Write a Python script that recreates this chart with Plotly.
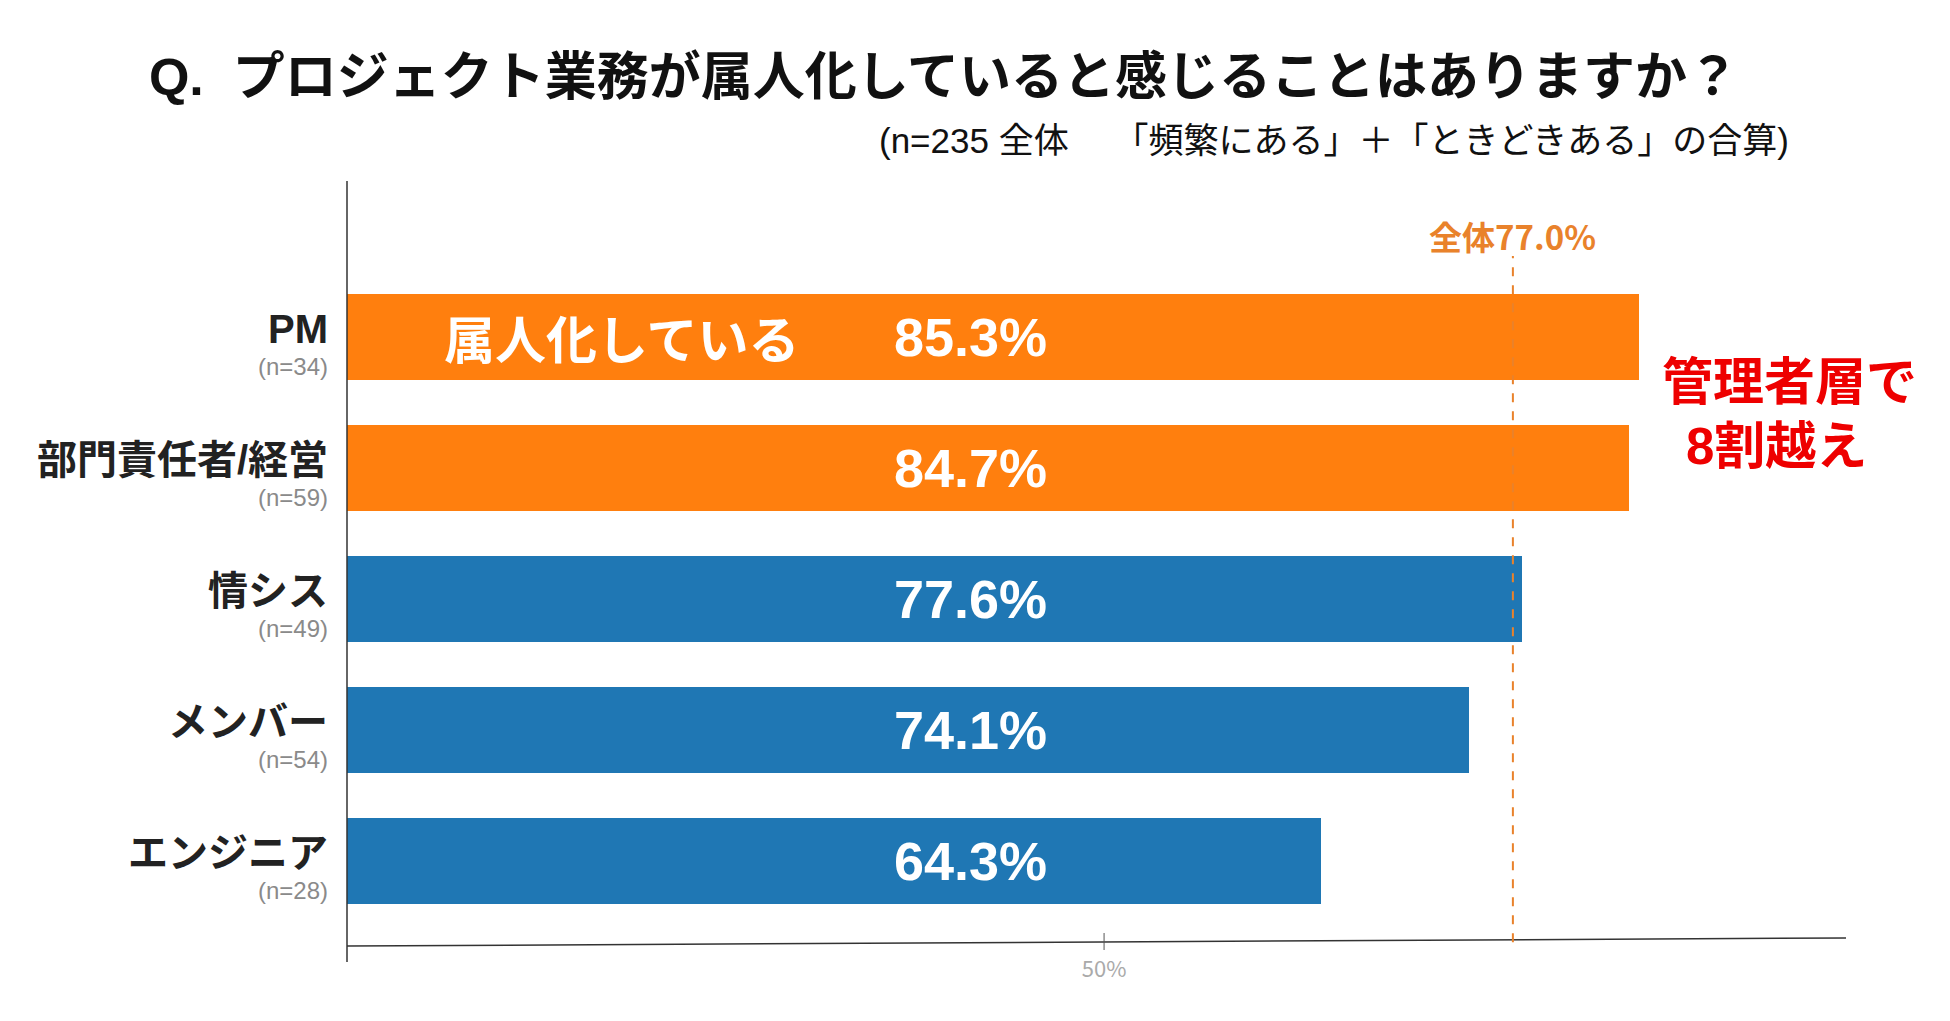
import plotly.graph_objects as go

# data
groups = ["PM", "部門責任者/経営", "情シス", "メンバー", "エンジニア"]
group_n = [34, 59, 49, 54, 28]
shares = [85.3, 84.7, 77.6, 74.1, 64.3]
bar_colors = ["#ff7f0e", "#ff7f0e", "#1f77b4", "#1f77b4", "#1f77b4"]
overall = 77.0
x_ticks = [50]
x_ticklabels = ["50%"]

title_text = "Q.  プロジェクト業務が属人化していると感じることはありますか？"
sub_text = "(n=235 全体　\u00a0「頻繁にある」＋「ときどきある」の合算)"

# page body has an 8px margin, so everything is placed 8px up/left
OFF = 8
W, H = 1950 - 2 * OFF, 1021 - 2 * OFF
L, T = 347 - OFF, 181 - OFF
R = W - (1846 - OFF)
B = H - (946 - OFF)
PW = W - L - R
PH = H - T - B
JP = "Noto Sans CJK JP"
LAT = "Liberation Sans, Noto Sans CJK JP"


def px_x(p):
    # page pixel -> paper x
    return (p - OFF - L) / PW


def px_y(p):
    # page pixel -> paper y
    return (H - B - (p - OFF)) / PH


# PM on top
ypos = list(range(len(groups) - 1, -1, -1))

fig = go.Figure()
fig.add_trace(go.Bar(
    x=shares, y=ypos, orientation="h",
    width=0.658,
    marker=dict(color=bar_colors, line=dict(width=0)),
    hoverinfo="x+y",
))

ann = []
for name, n, v, y in zip(groups, group_n, shares, ypos):
    ann.append(dict(x=0, xref="paper", y=y, yref="y", xanchor="right", yanchor="bottom",
                    xshift=-18, yshift=-15, borderpad=0, text="<b>%s</b>" % name,
                    showarrow=False, font=dict(family=LAT, size=40, color="#222222")))
    ann.append(dict(x=0, xref="paper", y=y, yref="y", xanchor="right", yanchor="top",
                    xshift=-18, yshift=-15, borderpad=0, text="(n=%d)" % n,
                    showarrow=False, font=dict(family=LAT, size=24, color="#8a8a8a")))
    ann.append(dict(x=36.0, xref="x", y=y, yref="y", xanchor="left", yanchor="middle",
                    text="<b>%.1f%%</b>" % v, showarrow=False,
                    font=dict(family=LAT, size=54, color="white")))

ann.append(dict(x=6.25, xref="x", y=ypos[0], yref="y", xanchor="left", yanchor="middle",
                text="<b>属人化している</b>", showarrow=False,
                font=dict(family=JP, size=51, color="white")))

ann.append(dict(x=overall, xref="x", y=px_y(236), yref="paper",
                xanchor="center", yanchor="middle", text="<b>全体%.1f%%</b>" % overall,
                showarrow=False, font=dict(family=JP, size=33, color="#e9822b")))

# red call-out, two lines
ann.append(dict(x=px_x(1789), xref="paper", y=px_y(412), yref="paper",
                xanchor="center", yanchor="bottom", borderpad=0,
                text="<b>管理者層で</b>", showarrow=False,
                font=dict(family=LAT, size=51, color="#ee0000")))
ann.append(dict(x=px_x(1776), xref="paper", y=px_y(417), yref="paper",
                xanchor="center", yanchor="top", borderpad=0,
                text="<b>8割越え</b>", showarrow=False,
                font=dict(family=LAT, size=51, color="#ee0000")))

ann.append(dict(x=px_x(1334), xref="paper", y=px_y(141), yref="paper",
                xanchor="center", yanchor="middle", text=sub_text, showarrow=False,
                font=dict(family=LAT, size=35, color="#111111")))

shapes = [
    # y axis line, runs a bit below the x axis
    dict(type="line", xref="paper", yref="paper", x0=0, x1=0, y0=px_y(962), y1=1,
         line=dict(color="#333333", width=1.5)),
    # x axis line (slightly tilted as in the original)
    dict(type="line", xref="paper", yref="paper", x0=0, x1=1, y0=0, y1=px_y(938),
         line=dict(color="#333333", width=1.5)),
    # tick at 50%
    dict(type="line", xref="x", yref="paper", x0=50, x1=50, y0=px_y(950), y1=px_y(933),
         line=dict(color="#555555", width=1)),
    # overall reference line
    dict(type="line", xref="x", yref="paper", x0=overall, x1=overall, y0=0.005, y1=px_y(256),
         line=dict(color="#e9822b", width=2, dash="dash")),
]

fig.update_layout(
    width=W, height=H,
    margin=dict(l=L, r=R, t=T, b=B),
    paper_bgcolor="white", plot_bgcolor="white",
    showlegend=False,
    title=dict(text="<b>%s</b>" % title_text, x=(944 - OFF) / W, xanchor="center",
               y=1 - (77 - OFF) / H, yanchor="middle",
               font=dict(family=LAT, size=52, color="#111111")),
    xaxis=dict(range=[0, 99.0], showgrid=False, zeroline=False, showline=False,
               tickvals=x_ticks, ticktext=x_ticklabels, ticks="",
               tickfont=dict(family=JP, size=22, color="#aaaaaa"), ticklabelstandoff=8),
    yaxis=dict(range=[-0.65, 5.193], showgrid=False, zeroline=False, showline=False,
               showticklabels=False, ticks=""),
    annotations=ann,
    shapes=shapes,
    bargap=0,
)

fig.write_html("out.html")
